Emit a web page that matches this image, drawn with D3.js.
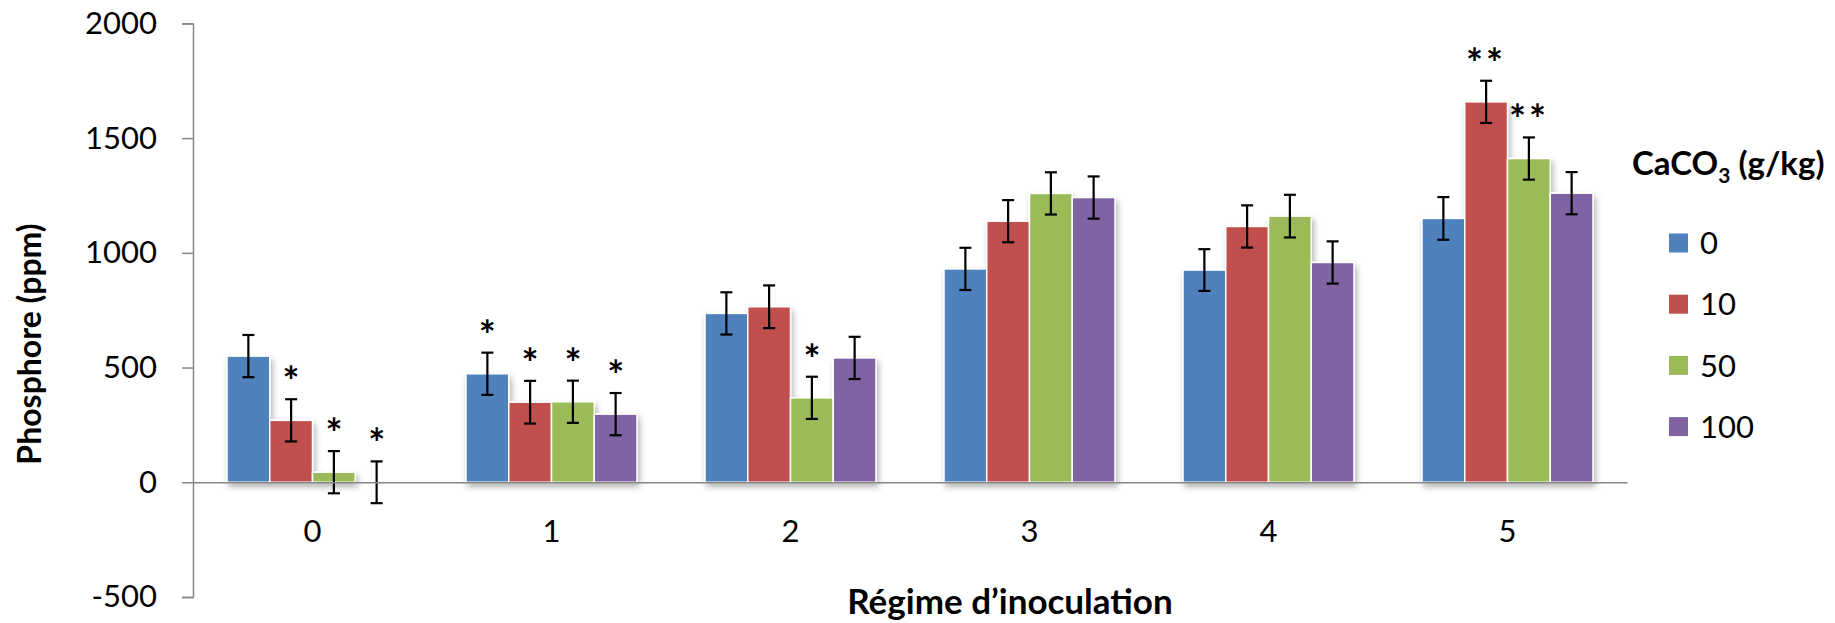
<!DOCTYPE html>
<html><head><meta charset="utf-8">
<script src="https://cdn.jsdelivr.net/npm/d3@7"></script>
<style>body{margin:0;background:#fff}svg{display:block}</style>
</head><body>
<svg id="c" width="1835" height="623"></svg>
<script>
// ---- data ----
const categories = ["0", "1", "2", "3", "4", "5"];
const seriesNames = ["0", "10", "50", "100"];
const valuesS0   = [550, 473, 736, 930, 925, 1150];
const valuesS10  = [270, 349, 765, 1138, 1115, 1658];
const valuesS50  = [44, 351, 368, 1259, 1160, 1411];
const valuesS100 = [0, 297, 542, 1241, 958, 1260];
const errS0   = [92, 92, 92, 92, 91, 93];
const errS10  = [92, 93, 93, 92, 92, 92];
const errS50  = [92, 92, 92, 92, 93, 92];
const errS100 = [91, 92, 92, 92, 92, 92];
const sigS0   = ["", "*", "", "", "", ""];
const sigS10  = ["*", "*", "", "", "", "**"];
const sigS50  = ["*", "*", "*", "", "", "**"];
const sigS100 = ["*", "*", "", "", "", ""];
const yTicks = [-500, 0, 500, 1000, 1500, 2000];
const colors = ["#4F81BD", "#C0504D", "#9BBB59", "#8064A2"];

const values = [valuesS0, valuesS10, valuesS50, valuesS100];
const errs = [errS0, errS10, errS50, errS100];
const sigs = [sigS0, sigS10, sigS50, sigS100];

const svg = d3.select("#c");
const FONT = "Lato, 'Open Sans', sans-serif";

const defs = svg.append("defs");
const f = defs.append("filter").attr("id","sh").attr("x","-20%").attr("y","-20%").attr("width","140%").attr("height","140%");
f.append("feDropShadow").attr("dx",2).attr("dy",4).attr("stdDeviation",3).attr("flood-color","#000").attr("flood-opacity",0.3);

const mLeft = 193, mRight = 1627, mTop = 23.4, mBottom = 597;
const y = d3.scaleLinear().domain([-500, 2000]).range([mBottom, mTop]);
const x0 = d3.scaleBand().domain(categories).range([mLeft, mRight]).paddingInner(0.2845).paddingOuter(0.14225);
const x1 = d3.scaleBand().domain(seriesNames).range([0, x0.bandwidth()]);

// bars
const groups = svg.append("g").selectAll("g").data(categories).join("g")
  .attr("transform", d => `translate(${x0(d)},0)`);
groups.append("g").attr("filter","url(#sh)").selectAll("rect")
  .data((c, i) => seriesNames.map((s, j) => ({s, j, v: values[j][i]})))
  .join("rect")
  .attr("x", d => x1(d.s))
  .attr("width", x1.bandwidth())
  .attr("y", d => Math.min(y(d.v), y(0)))
  .attr("height", d => Math.abs(y(0) - y(d.v)))
  .attr("fill", d => colors[d.j])
  .attr("stroke", "#fff").attr("stroke-width", 1.5);

// axes
const yAxis = svg.append("g").attr("transform", `translate(${mLeft},0)`)
  .call(d3.axisLeft(y).tickValues(yTicks).tickSize(11).tickSizeOuter(11).tickPadding(25).tickFormat(d => String(d)));
yAxis.selectAll("path,line").attr("stroke", "#868686").attr("stroke-width", 1.5);
yAxis.selectAll("text").attr("font-family", FONT).attr("font-size", 31).attr("fill", "#000");

const xAxis = svg.append("g").attr("transform", `translate(0,${y(0)})`)
  .call(d3.axisBottom(x0).tickSize(0).tickSizeOuter(0).tickPadding(38));
xAxis.selectAll("path").attr("stroke", "#868686").attr("stroke-width", 1.5);
xAxis.selectAll("text").attr("font-family", FONT).attr("font-size", 31).attr("fill", "#000");

// error bars + significance
const eb = groups.append("g").selectAll("g")
  .data((c, i) => seriesNames.map((s, j) => ({s, j, v: values[j][i], e: errs[j][i], sig: sigs[j][i]})))
  .join("g").attr("transform", d => `translate(${x1(d.s) + x1.bandwidth()/2},0)`);
eb.append("line").attr("y1", d => y(d.v + d.e)).attr("y2", d => y(d.v - d.e))
  .attr("stroke", "#000").attr("stroke-width", 2.2);
eb.append("line").attr("x1", -6).attr("x2", 6).attr("y1", d => y(d.v + d.e)).attr("y2", d => y(d.v + d.e))
  .attr("stroke", "#000").attr("stroke-width", 2.2);
eb.append("line").attr("x1", -6).attr("x2", 6).attr("y1", d => y(d.v - d.e)).attr("y2", d => y(d.v - d.e))
  .attr("stroke", "#000").attr("stroke-width", 2.2);
eb.filter(d => d.sig).append("text")
  .attr("y", d => y(d.v + d.e) - 3)
  .attr("text-anchor", "middle")
  .attr("font-family", FONT).attr("font-size", 40).attr("font-weight", "bold")
  .attr("letter-spacing", d => d.sig.length > 1 ? 3 : 0)
  .text(d => d.sig);

// axis titles
svg.append("text").attr("transform", `translate(41,344) rotate(-90)`)
  .attr("text-anchor", "middle").attr("font-family", FONT).attr("font-weight", "bold").attr("font-size", 32)
  .text("Phosphore (ppm)");
svg.append("text").attr("x", 1010).attr("y", 614)
  .attr("text-anchor", "middle").attr("font-family", FONT).attr("font-weight", "bold").attr("font-size", 35)
  .text("Régime d’inoculation");

// legend
const lt = svg.append("text").attr("x", 1632).attr("y", 175)
  .attr("font-family", FONT).attr("font-weight", "bold").attr("font-size", 33);
lt.append("tspan").text("CaCO");
lt.append("tspan").attr("font-size", 21).attr("dy", 8).text("3");
lt.append("tspan").attr("dy", -8).text(" (g/kg)");

const lg = svg.append("g").selectAll("g").data(seriesNames).join("g")
  .attr("transform", (d, i) => `translate(1669,${243 + i * 61.2})`);
lg.append("rect").attr("x", 0).attr("y", -9.5).attr("width", 19).attr("height", 19)
  .attr("fill", (d, i) => colors[i]);
lg.append("text").attr("x", 31).attr("dy", "0.36em")
  .attr("font-family", FONT).attr("font-size", 31).text(d => d);
</script>
</body></html>
